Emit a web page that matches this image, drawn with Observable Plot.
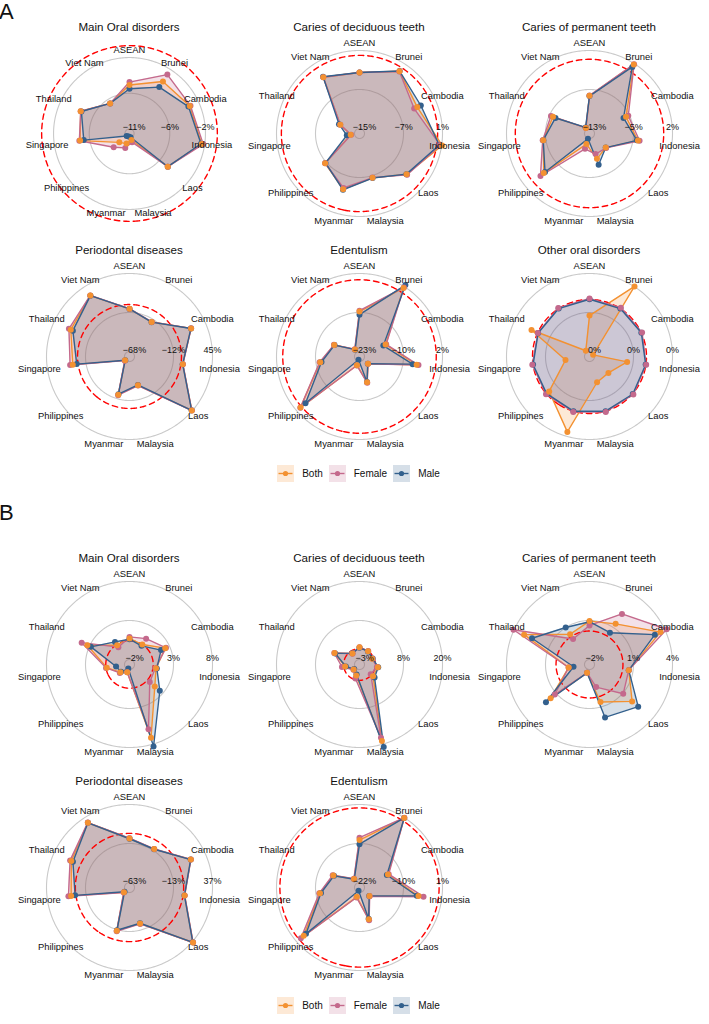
<!DOCTYPE html>
<html>
<head>
<meta charset="utf-8">
<script src="https://cdn.jsdelivr.net/npm/d3@7"></script>
<script src="https://cdn.jsdelivr.net/npm/@observablehq/plot@0.6"></script>
<style>
  body { margin: 0; background: #fff; font-family: "Liberation Sans", Arial, sans-serif; color: #111; }
  #fig { position: relative; width: 709px; height: 1024px; overflow: hidden; }
  .tag { position: absolute; left: -1px; font-size: 22px; line-height: 22px; }
  .title { position: absolute; width: 230px; text-align: center; font-size: 11.6px; line-height: 16px; white-space: nowrap; }
  .radar { position: absolute; }
  .radar svg { overflow: visible; }
  .legend { position: absolute; left: 0; width: 717px; display: flex; justify-content: center; align-items: center; font-size: 10px; height: 18px; }
  .legend .item { display: flex; align-items: center; margin: 0 3px; }
  .legend svg { display: block; margin-right: 8px; }
</style>
</head>
<body>
<div id="fig"></div>
<script>
// Countries, clockwise from the top of every radar
const countries = ["ASEAN", "Brunei", "Cambodia", "Indonesia", "Laos", "Malaysia",
  "Myanmar", "Philippines", "Singapore", "Thailand", "Viet Nam"];
const sexes = ["Both", "Female", "Male"];
const sexColors = ["#F39131", "#C4698C", "#33608D"];

// Panel A — grid range [inner ring, outer ring] in % and values per sex
const aMainGrid = [-11.2, -1.6];
const aMainBoth   = [-5.3, -3.5, -2.9, -2.0, -5.0, -10.9, -10.4, -10.0, -5.1, -4.6, -7.0];
const aMainFemale = [-4.9, -2.4, -2.8, -1.8, -5.0, -10.6, -9.8, -9.0, -5.0, -4.6, -7.0];
const aMainMale   = [-5.8, -4.4, -3.1, -2.1, -5.0, -11.3, -11.4, -11.3, -5.6, -4.7, -7.0];

const aDecidGrid = [-15, 1];
const aDecidBoth   = [-3.5, -0.85, -3.0, 1.1, -3.25, -6.55, -4.1, -6.7, -14.2, -11.7, -2.3];
const aDecidFemale = [-3.5, -0.9, -3.7, 0.7, -3.1, -6.6, -4.4, -6.7, -14.3, -11.7, -2.3];
const aDecidMale   = [-3.5, -0.8, -2.2, 0.5, -3.3, -6.5, -4.0, -6.8, -13.4, -11.4, -2.2];

const aPermGrid = [-12.6, 1.6];
const aPermBoth   = [-6.65, 1.4, -6.2, -4.6, -9.6, -8.7, -11.5, -2.5, -5.0, -6.2, -12.3];
const aPermFemale = [-6.6, 1.5, -5.75, -4.3, -9.5, -9.6, -10.6, -1.7, -4.9, -5.8, -12.3];
const aPermMale   = [-6.7, 0.9, -6.7, -4.8, -9.6, -7.6, -12.5, -2.8, -5.0, -6.7, -12.2];

const aPerioGrid = [-68.4, 45.2];
const aPerioBoth   = [-6.2, -16.0, 22.9, 2.7, 44.3, -32.0, -17.7, -67.1, 7.8, 18.3, 29.8];
const aPerioFemale = [-6.0, -15.8, 23.0, 2.9, 44.5, -31.5, -17.0, -66.5, 11.7, 21.3, 30.0];
const aPerioMale   = [-6.4, -16.2, 22.7, 2.5, 44.0, -32.5, -18.5, -67.5, 2.0, 15.0, 29.6];

const aEdentGrid = [-23, 2];
const aEdentBoth   = [-10.2, 1.5, -15.4, -6.1, -21.0, -16.0, -21.7, 0.4, -11.9, -15.7, -21.9];
const aEdentFemale = [-9.9, 1.7, -15.2, -5.5, -21.0, -15.8, -21.6, 0.5, -11.7, -15.6, -21.8];
const aEdentMale   = [-11.2, 2.6, -16.2, -7.4, -21.1, -16.1, -23.5, -1.7, -12.3, -15.8, -22.0];

const aOtherGrid = [-0.2, 0.1];
const aOtherBoth   = [-0.062, 0.101, -0.204, -0.073, -0.123, -0.116, 0.083, -0.014, -0.126, 0.026, -0.193];
const aOtherFemale = [0.004, 0.004, 0.003, 0.001, 0.004, 0.003, 0.003, 0.002, 0.003, -0.001, 0.003];
const aOtherMale   = [0.001, 0.0, 0.0, -0.001, 0.001, 0.0, 0.0, -0.001, 0.0, -0.002, 0.0];

// Panel B
const bMainGrid = [-2.4, 7.6];
const bMainBoth   = [0.3, 0.0, 2.0, 0.4, 1.25, 6.75, -2.0, -1.5, -0.1, 2.9, -0.1];
const bMainFemale = [0.5, 0.9, 2.1, 0.3, 0.4, 5.6, -2.0, -1.4, 0.0, 3.7, -0.4];
const bMainMale   = [0.2, -0.2, 1.4, 0.5, 2.1, 7.9, -2.5, -1.6, -1.3, 2.4, 0.4];

const bDecidGrid = [-3.2, 19.8];
const bDecidBoth   = [0.4, 0.0, -0.6, 0.8, 0.6, 18.8, -1.3, -2.4, -0.4, 3.4, -0.8];
const bDecidFemale = [0.4, 0.1, -0.5, 0.5, -0.3, 17.8, -0.4, -2.3, 0.55, 3.5, -0.9];
const bDecidMale   = [0.3, -0.1, -0.4, 0.9, 1.2, 20.7, -1.6, -2.6, -0.6, 3.2, -0.7];

const bPermGrid = [-2.3, 4.0];
const bPermBoth   = [0.8, 1.2, 3.6, 0.5, 1.85, 0.45, -2.0, 1.45, -1.0, 3.1, 0.2];
const bPermFemale = [0.45, 2.15, 4.15, 0.5, 0.9, -0.8, -2.0, 1.0, -1.0, 4.05, -0.25];
const bPermMale   = [0.75, 0.35, 3.1, 0.5, 2.5, 1.75, -2.0, 1.95, -1.4, 2.4, 0.85];

const bPerioGrid = [-63, 37];
const bPerioBoth   = [-6.6, -10.9, 17.0, 1.9, 38.3, -21.3, -11.7, -60.0, 6.2, 12.6, 29.3];
const bPerioFemale = [-6.0, -10.7, 17.2, 2.1, 38.5, -20.8, -11.0, -59.5, 9.7, 14.3, 29.5];
const bPerioMale   = [-6.9, -11.1, 16.8, 1.7, 38.0, -21.6, -12.3, -61.0, 1.1, 10.3, 29.1];

const bEdentGrid = [-22, 1];
const bEdentBoth   = [-9.5, 0.9, -14.25, -5.9, -19.6, -13.7, -20.6, -1.7, -11.7, -15.0, -20.5];
const bEdentFemale = [-8.8, 1.0, -14.0, -4.4, -19.5, -13.4, -20.4, -0.6, -11.5, -14.8, -20.4];
const bEdentMale   = [-10.7, 0.9, -14.6, -6.4, -19.7, -13.9, -22.5, -2.6, -12.0, -15.2, -20.6];

const titles = ["Main Oral disorders", "Caries of deciduous teeth", "Caries of permanent teeth",
  "Periodontal diseases", "Edentulism", "Other oral disorders"];

const panelA = [
  {title: titles[0], grid: aMainGrid, values: [aMainBoth, aMainFemale, aMainMale]},
  {title: titles[1], grid: aDecidGrid, values: [aDecidBoth, aDecidFemale, aDecidMale]},
  {title: titles[2], grid: aPermGrid, values: [aPermBoth, aPermFemale, aPermMale]},
  {title: titles[3], grid: aPerioGrid, values: [aPerioBoth, aPerioFemale, aPerioMale]},
  {title: titles[4], grid: aEdentGrid, values: [aEdentBoth, aEdentFemale, aEdentMale]},
  {title: titles[5], grid: aOtherGrid, values: [aOtherBoth, aOtherFemale, aOtherMale]}
];
const panelB = [
  {title: titles[0], grid: bMainGrid, values: [bMainBoth, bMainFemale, bMainMale]},
  {title: titles[1], grid: bDecidGrid, values: [bDecidBoth, bDecidFemale, bDecidMale]},
  {title: titles[2], grid: bPermGrid, values: [bPermBoth, bPermFemale, bPermMale]},
  {title: titles[3], grid: bPerioGrid, values: [bPerioBoth, bPerioFemale, bPerioMale]},
  {title: titles[4], grid: bEdentGrid, values: [bEdentBoth, bEdentFemale, bEdentMale]}
];

// Angular position: longitude on an azimuthal projection centred on the pole,
// 180° pointing up and decreasing clockwise.
const lon = d3.scalePoint(countries, [180, 180 - 360 * 10 / 11]);

const fmtPct = (v) => {
  const n = Math.round(v);
  return (n < 0 ? "\u2212" : "") + Math.abs(n) + "%";
};

function radar(spec) {
  const [gmin, gmax] = spec.grid;
  const radius = d3.scaleLinear([gmin, gmax], [5, 83]);
  const lat = (v) => 90 - radius(v);
  const ringVals = [gmin, (gmin + gmax) / 2, gmax];
  // when the zero ring reaches past the country labels, the whole radar shrinks to fit it
  const extent = radius(0) > 87 ? radius(0) + 10 : 97;
  const cap = (r) => d3.geoCircle().center([0, 90]).radius(r).precision(1)();
  const idx = d3.range(countries.length);

  const marks = [
    Plot.geo(ringVals, {geometry: (v) => cap(radius(v)), fill: "none", stroke: "#c9c9c9", strokeWidth: 1.1})
  ];
  spec.values.forEach((vals, s) => {
    marks.push(Plot.area(idx, {
      x1: (i) => lon(countries[i]), y1: (i) => lat(vals[i]), x2: 0, y2: 90,
      curve: "linear-closed", fill: sexColors[s], fillOpacity: 0.2
    }));
  });
  marks.push(Plot.geo([0], {geometry: (v) => cap(radius(v)), fill: "none", stroke: "#ff0000",
    strokeWidth: 1.4, strokeDasharray: "5.5,4"}));
  spec.values.forEach((vals, s) => {
    marks.push(Plot.line(idx, {
      x: (i) => lon(countries[i]), y: (i) => lat(vals[i]),
      curve: "linear-closed", stroke: sexColors[s], strokeWidth: 1.4
    }));
  });
  [2, 1, 0].forEach((s) => {
    const vals = spec.values[s];
    marks.push(Plot.dot(idx, {x: (i) => lon(countries[i]), y: (i) => lat(vals[i]), r: 3, fill: sexColors[s]}));
  });
  marks.push(Plot.text(countries, {x: (d) => lon(d), y: 90 - 91, text: (d) => d, fontSize: 9.4, fill: "#111"}));
  marks.push(Plot.text(ringVals, {x: 90, y: (v) => lat(v), dy: -6, text: fmtPct, fontSize: 9, fill: "#111"}));

  return Plot.plot({
    width: 230,
    height: 194,
    margin: 0,
    style: {overflow: "visible", background: "transparent", fontFamily: "Liberation Sans, Arial, sans-serif"},
    projection: {
      type: "azimuthal-equidistant",
      rotate: [0, -90],
      domain: cap(extent),
      inset: 0,
      clip: false
    },
    marks
  });
}

const fig = document.getElementById("fig");
const colX = [129, 359, 589];

function addTag(text, top) {
  const d = document.createElement("div");
  d.className = "tag";
  d.style.top = top + "px";
  d.textContent = text;
  fig.appendChild(d);
}

function addChart(spec, cx, cy) {
  const t = document.createElement("div");
  t.className = "title";
  t.style.left = (cx - 115) + "px";
  t.style.top = (cy - 106 - 8) + "px";
  t.textContent = spec.title;
  fig.appendChild(t);
  const holder = document.createElement("div");
  holder.className = "radar";
  holder.style.left = (cx - 115) + "px";
  holder.style.top = (cy - 97) + "px";
  holder.appendChild(radar(spec));
  fig.appendChild(holder);
}

function addLegend(cy) {
  const lg = document.createElement("div");
  lg.className = "legend";
  lg.style.top = (cy - 9) + "px";
  sexes.forEach((name, s) => {
    const item = document.createElement("div");
    item.className = "item";
    const c = sexColors[s];
    item.innerHTML =
      `<svg width="17" height="17"><rect width="17" height="17" fill="${c}" fill-opacity="0.2"/>` +
      `<line x1="1.5" x2="15.5" y1="8.5" y2="8.5" stroke="${c}" stroke-width="1.4"/>` +
      `<circle cx="8.5" cy="8.5" r="2.6" fill="${c}"/></svg><span>${name}</span>`;
    lg.appendChild(item);
  });
  fig.appendChild(lg);
}

addTag("A", 1);
panelA.forEach((spec, k) => addChart(spec, colX[k % 3], [133, 356][Math.floor(k / 3)]));
addLegend(473);

addTag("B", 502);
panelB.forEach((spec, k) => addChart(spec, colX[k % 3], [664, 887][Math.floor(k / 3)]));
addLegend(1005);
</script>
</body>
</html>
